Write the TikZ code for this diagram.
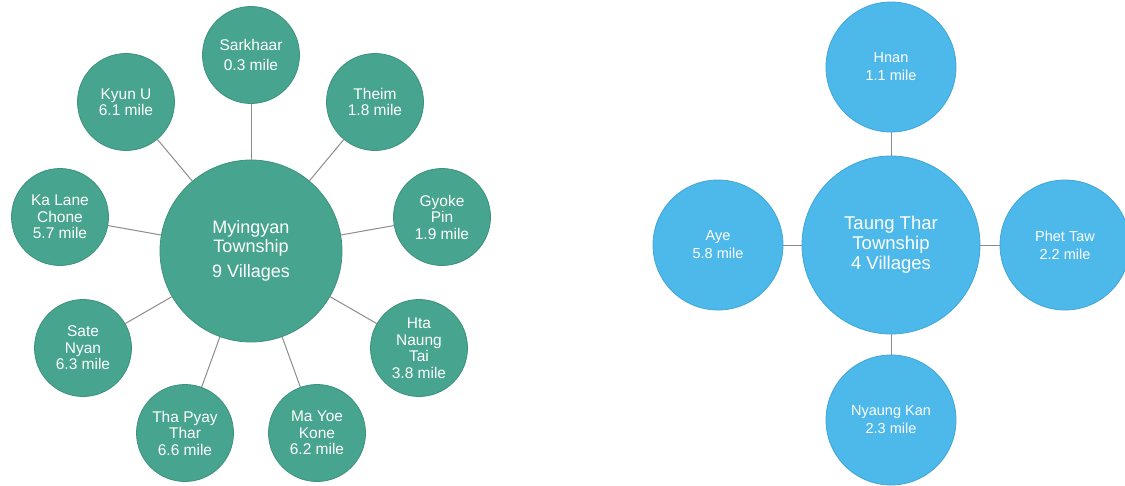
\documentclass[tikz,border=0pt]{standalone}
\usepackage{fontspec}
\setmainfont{Liberation Sans}
\definecolor{teal1}{HTML}{47A48E}
\definecolor{teal2}{HTML}{3D927E}
\definecolor{blue1}{HTML}{4DB8EA}
\definecolor{blue2}{HTML}{42A6D6}
\definecolor{conn}{HTML}{8C8C8C}
\begin{document}
\begin{tikzpicture}[x=1pt,y=-1pt,
  bub/.style={circle,inner sep=0pt,align=center,text=white,line width=0.8pt},
  gbig/.style={bub,fill=teal1,draw=teal2,minimum size=182pt,font=\fontsize{18}{19}\selectfont},
  gsm/.style={bub,fill=teal1,draw=teal2,minimum size=97pt,font=\fontsize{15.5}{16.5}\selectfont},
  bbig/.style={bub,fill=blue1,draw=blue2,minimum size=178pt,font=\fontsize{18.5}{20}\selectfont},
  bsm/.style={bub,fill=blue1,draw=blue2,minimum size=130pt,font=\fontsize{14.5}{18}\selectfont},
  link/.style={draw=conn,line width=1pt}]
\useasboundingbox (0,0) rectangle (1125,485);
% left cluster
\node[gbig] (my) at (251,251) {Myingyan\\Township\\[6pt]9 Villages};
\node[gsm] (sar) at (251,55) {Sarkhaar\\[4pt]0.3 mile};
\node[gsm] (the) at (375,102) {Theim\\1.8 mile};
\node[gsm] (gyo) at (442,217) {Gyoke\\Pin\\1.9 mile};
\node[gsm] (hta) at (419,348) {Hta\\Naung\\Tai\\3.8 mile};
\node[gsm] (mayo) at (317,433) {Ma Yoe\\Kone\\6.2 mile};
\node[gsm] (tha) at (185,433) {Tha Pyay\\Thar\\6.6 mile};
\node[gsm] (sate) at (83,348) {Sate\\Nyan\\6.3 mile};
\node[gsm] (ka) at (60,217) {Ka Lane\\Chone\\5.7 mile};
\node[gsm] (kyun) at (126,102) {Kyun U\\6.1 mile};
\foreach \s in {sar,the,gyo,hta,mayo,tha,sate,ka,kyun}
  \draw[link] (my) -- (\s);
% right cluster
\node[bbig] (tt) at (891,245) {Taung Thar\\Township\\4 Villages};
\node[bsm] (hn) at (891,67) {Hnan\\1.1 mile};
\node[bsm] (aye) at (718,245) {Aye\\5.8 mile};
\node[bsm] (pt) at (1065,245) {Phet Taw\\2.2 mile};
\node[bsm] (nk) at (891,420) {Nyaung Kan\\2.3 mile};
\foreach \s in {hn,aye,pt,nk}
  \draw[link] (tt) -- (\s);
\end{tikzpicture}
\end{document}
